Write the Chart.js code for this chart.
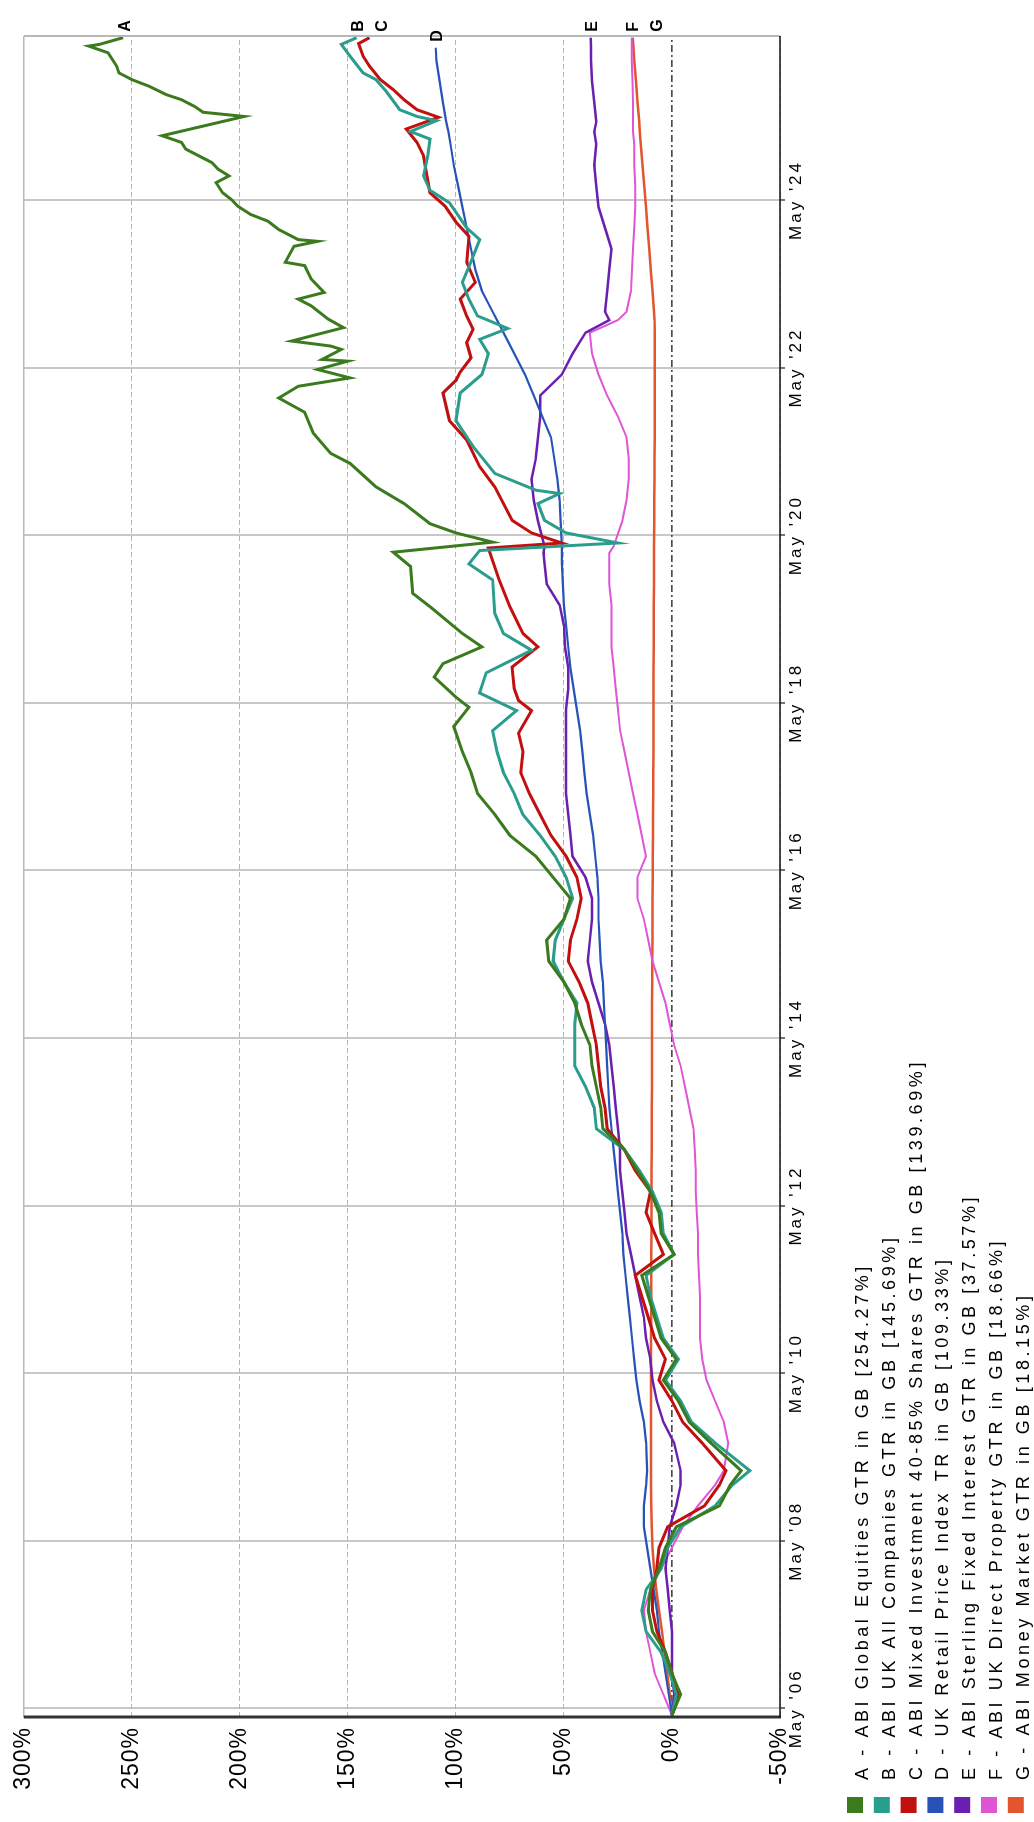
<!DOCTYPE html>
<html>
<head>
<meta charset="utf-8">
<script src="https://cdn.jsdelivr.net/npm/chart.js@4.4.1/dist/chart.umd.min.js"></script>
<style>
  html, body { margin: 0; padding: 0; background: #fff; overflow: hidden; }
  /* el grafico original esta girado 90 grados */
  #envoltura {
    position: absolute; left: 0; top: 0;
    width: 1822px; height: 1034px;
    transform-origin: 0 0;
    transform: translate(0, 1822px) rotate(-90deg);
  }
  canvas { display: block; }
</style>
</head>
<body>
<div id="envoltura"><canvas id="grafica" width="1822" height="1034"></canvas></div>
<script>
// fechas en años decimales (mayo = año + 4/12)
const fechasA = [
  2006.25, 2006.5, 2006.75, 2007.0, 2007.25, 2007.5, 2007.75, 2008.0, 2008.25, 2008.5,
  2008.75, 2009.0, 2009.17, 2009.5, 2009.75, 2010.0, 2010.25, 2010.5, 2010.75, 2011.0,
  2011.25, 2011.5, 2011.75, 2012.0, 2012.25, 2012.5, 2012.75, 2013.0, 2013.25, 2013.5,
  2013.75, 2014.0, 2014.25, 2014.5, 2014.75, 2015.0, 2015.25, 2015.5, 2015.75, 2016.0,
  2016.25, 2016.5, 2016.75, 2017.0, 2017.25, 2017.5, 2017.75, 2018.05, 2018.28, 2018.4,
  2018.64, 2018.8, 2019.0, 2019.16, 2019.48, 2019.64, 2019.96, 2020.13, 2020.25, 2020.36,
  2020.47, 2020.71, 2020.91, 2021.19, 2021.31, 2021.55, 2021.8, 2021.97, 2022.11, 2022.21,
  2022.31, 2022.41, 2022.43, 2022.55, 2022.59, 2022.65, 2022.81, 2022.91, 2023.07, 2023.15,
  2023.23, 2023.39, 2023.55, 2023.59, 2023.78, 2023.84, 2023.86, 2023.98, 2024.08, 2024.16,
  2024.26, 2024.34, 2024.42, 2024.54, 2024.62, 2024.7, 2024.78, 2024.86, 2024.94, 2025.02,
  2025.1, 2025.33, 2025.38, 2025.45, 2025.53, 2025.59, 2025.69, 2025.77, 2025.85, 2025.93,
  2026.09, 2026.17, 2026.19, 2026.27
];
const globalEquities = [
  0, -4, 0, 3, 9, 11, 10, 6, 3, -2,
  -22, -27, -32, -18, -8, -3, 4, -2, 5, 8,
  11, 14, -1, 5, 6, 10, 16, 22, 32, 33,
  35, 37, 38, 42, 45, 50, 57, 58, 50, 47,
  55, 63, 75, 82, 90, 93, 97, 101, 94, 100,
  110, 106, 88, 97, 112, 120, 121, 129, 83, 100,
  112, 124, 137, 149, 158, 166, 170, 182, 173, 149,
  164, 150, 162, 153, 158, 176, 152, 159, 167, 173,
  161, 167, 170, 179, 175, 164, 173, 182, 187, 195,
  201, 204, 208, 211, 205, 210, 213, 219, 225, 227,
  236, 198, 217, 221, 227, 234, 242, 250, 256, 257,
  261, 270, 265, 254
];

const fechasB = [
  2006.25, 2006.5, 2006.75, 2007.0, 2007.25, 2007.5, 2007.75, 2008.0, 2008.25, 2008.5,
  2008.75, 2009.0, 2009.17, 2009.5, 2009.75, 2010.0, 2010.25, 2010.5, 2010.75, 2011.0,
  2011.25, 2011.5, 2011.75, 2012.0, 2012.25, 2012.5, 2012.75, 2013.0, 2013.25, 2013.5,
  2013.75, 2014.0, 2014.25, 2014.5, 2014.75, 2015.0, 2015.25, 2015.5, 2015.75, 2016.0,
  2016.25, 2016.5, 2016.75, 2017.0, 2017.25, 2017.5, 2017.75, 2018.0, 2018.24, 2018.45,
  2018.69, 2018.96, 2019.16, 2019.4, 2019.8, 2019.99, 2020.15, 2020.24, 2020.36, 2020.51,
  2020.71, 2020.83, 2020.87, 2021.07, 2021.39, 2021.7, 2022.03, 2022.25, 2022.5, 2022.67,
  2022.8, 2022.95, 2023.15, 2023.35, 2023.6, 2023.86, 2024.0, 2024.3, 2024.45, 2024.62,
  2024.86, 2025.06, 2025.15, 2025.28, 2025.33, 2025.41, 2025.62, 2025.77, 2025.85, 2026.05,
  2026.19, 2026.27
];
const ukAllCompanies = [
  0, -2, 1, 5, 12, 14, 12, 5, 2, -4,
  -20, -28, -36, -20, -9, -4, 3, -3, 4, 7,
  10, 12, -1, 4, 5, 9, 15, 22, 35, 36,
  40, 45, 45, 45, 44, 50, 55, 54, 50, 46,
  49, 54, 61, 69, 73, 78, 81, 83, 72, 89,
  86, 65, 78, 82, 83, 94, 89, 25, 49, 59,
  62, 52, 63, 82, 92, 100, 98, 88, 85, 89,
  76, 90, 94, 97, 93, 89, 95, 103, 112, 115,
  113, 112, 121, 109, 118, 126, 132, 137, 143, 149,
  153, 146
];

const fechasC = [
  2006.25, 2006.5, 2006.75, 2007.0, 2007.25, 2007.5, 2007.75, 2008.0, 2008.25, 2008.5,
  2008.75, 2009.0, 2009.17, 2009.5, 2009.75, 2010.0, 2010.25, 2010.5, 2010.75, 2011.0,
  2011.25, 2011.5, 2011.75, 2012.0, 2012.25, 2012.5, 2012.75, 2013.0, 2013.25, 2013.5,
  2013.75, 2014.0, 2014.25, 2014.5, 2014.75, 2015.0, 2015.25, 2015.5, 2015.75, 2016.0,
  2016.25, 2016.5, 2016.75, 2017.0, 2017.25, 2017.5, 2017.75, 2017.97, 2018.24, 2018.36,
  2018.5, 2018.76, 2019.0, 2019.16, 2019.48, 2019.8, 2020.18, 2020.24, 2020.36, 2020.51,
  2020.91, 2021.15, 2021.47, 2021.7, 2022.03, 2022.18, 2022.28, 2022.45, 2022.63, 2022.79,
  2022.95, 2023.15, 2023.35, 2023.59, 2023.9, 2024.07, 2024.26, 2024.42, 2024.7, 2024.86,
  2025.02, 2025.18, 2025.32, 2025.41, 2025.53, 2025.65, 2025.77, 2025.93, 2026.05, 2026.2,
  2026.27
];
const mixedInvestment = [
  0, -3, 0, 3, 7, 9, 9, 7, 6, 2,
  -15, -22, -25, -14, -5, 0, 6, 3, 8, 11,
  14, 17, 4, 8, 12, 10, 17, 22, 30, 31,
  33, 34, 35, 37, 39, 43, 48, 47, 44, 42,
  44, 49, 56, 61, 66, 70, 69, 71, 65, 71,
  73, 74, 62, 69, 75, 80, 85, 51, 65, 74,
  82, 89, 95, 103, 106, 100, 98, 93, 95, 92,
  95, 98, 91, 95, 94, 100, 105, 112, 114, 115,
  118, 123, 108, 118, 124, 129, 135, 140, 143, 145,
  140
];

// fechas trimestrales para las series mas suaves
const fechas = [
  2006.25, 2006.5, 2006.75, 2007.0, 2007.25, 2007.5, 2007.75, 2008.0, 2008.25, 2008.5,
  2008.75, 2009.0, 2009.17, 2009.5, 2009.75, 2010.0, 2010.25, 2010.5, 2010.75, 2011.0,
  2011.25, 2011.5, 2011.75, 2012.0, 2012.25, 2012.5, 2012.75, 2013.0, 2013.25, 2013.5,
  2013.75, 2014.0, 2014.25, 2014.5, 2014.75, 2015.0, 2015.25, 2015.5, 2015.75, 2016.0,
  2016.25, 2016.5, 2016.75, 2017.0, 2017.25, 2017.5, 2017.75, 2018.0, 2018.25, 2018.5,
  2018.75, 2019.0, 2019.25, 2019.5, 2019.75, 2020.0, 2020.12, 2020.2, 2020.5, 2020.75,
  2021.0, 2021.25, 2021.5, 2021.75, 2022.0, 2022.25, 2022.5, 2022.75, 2022.9, 2023.0,
  2023.25, 2023.5, 2023.75, 2024.0, 2024.25, 2024.5, 2024.75, 2025.0, 2025.15, 2025.27,
  2025.5, 2025.75, 2026.0, 2026.15, 2026.27
];
const retailPriceIndex = [
  0, 1.5, 3, 4.5, 6, 7, 8.5, 10, 11.5, 13,
  13, 12, 11.5, 12, 13, 15, 16.5, 17.5, 18.5, 19.5,
  20.5, 21.5, 22.5, 23, 24, 25, 26, 27, 28, 29,
  29.5, 30, 30.5, 31, 31.5, 32, 33, 33.5, 34, 34,
  34.5, 35.5, 36.5, 38, 39.5, 40.5, 41.5, 42.5, 44, 45.5,
  47, 48, 49, 50, 50.5, 51, 51, 51, 51.5, 52,
  53, 54.5, 56, 60, 64, 68, 73, 78, 81, 83,
  88, 91, 93, 95, 97, 99, 101, 102.5, 103.5, 104.5,
  106, 107.5, 109, 109.33, null
];
const sterlingFixedInterest = [
  0, -1, 0, 0, 0, 1, 2, 3, 2, 1,
  -2, -4, -4, -1, 4, 7, 9, 10, 12, 13,
  15, 17, 19, 21, 22, 23, 24, 24, 25, 26,
  27, 28, 29, 31, 34, 37, 39, 38, 37, 37,
  40, 46, 47, 48, 49, 49, 49, 49, 49, 48,
  48, 49.5, 50, 52, 58, 59, 59.5, 59, 62, 64,
  65, 63, 62, 61, 61, 51, 46, 40, 29, 31,
  30, 29, 28, 31, 34, 35, 36, 35, 36, 35,
  36, 37, 37.5, 37.5, 37.57
];
const directProperty = [
  0, 4, 8, 10, 12, 13, 10, 5, 0, -5,
  -12, -20, -24, -26, -24, -20, -16, -14, -13, -13,
  -13, -12.5, -12, -12, -11.5, -11, -11, -10.5, -10, -8,
  -6, -4, -1, 1, 3, 6, 9, 11, 13, 16,
  16, 12, 14, 16, 18, 20, 22, 24, 25, 26,
  27, 28, 28, 28, 29, 29, 29, 27, 23, 21,
  20, 20, 21, 25, 30, 34, 37, 38, 25, 21,
  19, 18.5, 18, 17.5, 17, 17, 17.5, 17.5, 18, 18,
  18, 18.3, 18.6, 18.6, 18.66
];
const moneyMarket = [
  0, 1, 2.2, 3.4, 4.6, 6, 7.3, 8.3, 9, 9.4,
  9.6, 9.7, 9.7, 9.7, 9.7, 9.7, 9.7, 9.7, 9.7, 9.6,
  9.6, 9.6, 9.6, 9.5, 9.5, 9.5, 9.5, 9.4, 9.4, 9.4,
  9.3, 9.3, 9.3, 9.2, 9.2, 9.1, 9.1, 9.0, 9.0, 9.0,
  8.9, 8.9, 8.8, 8.8, 8.7, 8.7, 8.6, 8.6, 8.5, 8.5,
  8.5, 8.4, 8.4, 8.4, 8.3, 8.3, 8.3, 8.3, 8.2, 8.2,
  8.1, 8.1, 8.0, 8.0, 8.0, 8.0, 8.0, 8.0, 8.1, 8.3,
  9.0, 9.8, 10.5, 11.3, 12.0, 12.8, 13.6, 14.4, 14.9, 15.2,
  15.9, 16.7, 17.5, 17.8, 18.15
];

const letras = ["A", "B", "C", "D", "E", "F", "G"];
const nombres = [
  "A - ABI Global Equities GTR in GB [254.27%]",
  "B - ABI UK All Companies GTR in GB [145.69%]",
  "C - ABI Mixed Investment 40-85% Shares GTR in GB [139.69%]",
  "D - UK Retail Price Index TR in GB [109.33%]",
  "E - ABI Sterling Fixed Interest GTR in GB [37.57%]",
  "F - ABI UK Direct Property GTR in GB [18.66%]",
  "G - ABI Money Market GTR in GB [18.15%]"
];
const colores = ["#3b7b1e", "#2a9d8c", "#c20f0f", "#2753b8", "#6a1fae", "#e055d6", "#e2552e"];
const grosores = [3, 3, 3, 2.2, 2.5, 2, 2.5];

const aniosTick = [2006, 2008, 2010, 2012, 2014, 2016, 2018, 2020, 2022, 2024];
const etiquetasTick = ["May '06", "May '08", "May '10", "May '12", "May '14", "May '16", "May '18", "May '20", "May '22", "May '24"];

const series = [
  { x: fechasA, y: globalEquities },
  { x: fechasB, y: ukAllCompanies },
  { x: fechasC, y: mixedInvestment },
  { x: fechas, y: retailPriceIndex },
  { x: fechas, y: sterlingFixedInterest },
  { x: fechas, y: directProperty },
  { x: fechas, y: moneyMarket }
];

const FUENTE = "'Liberation Sans', Arial, sans-serif";

const marco = {
  id: "marco",
  beforeDraw(chart) {
    chart.ctx.letterSpacing = "1px";
  },
  beforeDatasetsDraw(chart) {
    const { ctx, chartArea: a, scales } = chart;
    const y0 = scales.y.getPixelForValue(0);
    ctx.save();
    ctx.strokeStyle = "#111";
    ctx.lineWidth = 1.3;
    ctx.setLineDash([7, 3, 2, 3]);
    ctx.beginPath();
    ctx.moveTo(a.left, y0);
    ctx.lineTo(a.right, y0);
    ctx.stroke();
    ctx.restore();
  },
  afterDatasetsDraw(chart) {
    const { ctx, chartArea: a } = chart;
    ctx.save();
    ctx.strokeStyle = "#b8b8b8";
    ctx.lineWidth = 1.5;
    ctx.beginPath();
    ctx.moveTo(a.left, a.top); ctx.lineTo(a.right, a.top);
    ctx.stroke();
    ctx.lineWidth = 2;
    ctx.beginPath();
    ctx.moveTo(a.right, a.top); ctx.lineTo(a.right, a.bottom);
    ctx.stroke();
    ctx.strokeStyle = "#333";
    ctx.lineWidth = 3;
    ctx.beginPath();
    ctx.moveTo(a.left, a.top); ctx.lineTo(a.left, a.bottom + 1);
    ctx.stroke();
    ctx.strokeStyle = "#111";
    ctx.lineWidth = 1.6;
    ctx.beginPath();
    ctx.moveTo(a.left, a.bottom); ctx.lineTo(a.right, a.bottom);
    ctx.stroke();
    ctx.restore();
  },
  afterDraw(chart) {
    const { ctx, chartArea: a, scales } = chart;
    ctx.save();
    ctx.fillStyle = "#000";

    // etiquetas de fecha
    ctx.font = "17px " + FUENTE;
    ctx.letterSpacing = "3px";
    ctx.textAlign = "center";
    ctx.textBaseline = "top";
    scales.x.ticks.forEach((t, i) => {
      ctx.fillText(etiquetasTick[i], scales.x.getPixelForValue(t.value), a.bottom + 8);
    });

    // letras al final de cada linea
    const finales = series.map((s, i) => {
      let k = s.y.length - 1;
      while (s.y[k] === null) k--;
      return { i, x: scales.x.getPixelForValue(s.x[k]) + 6, y: scales.y.getPixelForValue(s.y[k]) + 2 };
    }).sort((p, q) => p.y - q.y);
    for (let k = 1; k < finales.length; k++) {
      if (finales[k].y < finales[k - 1].y + 24) finales[k].y = finales[k - 1].y + 24;
    }
    ctx.font = "bold 16px " + FUENTE;
    ctx.letterSpacing = "2px";
    ctx.textAlign = "left";
    ctx.textBaseline = "middle";
    finales.forEach(p => ctx.fillText(letras[p.i], p.x, p.y));

    // leyenda
    ctx.font = "18px " + FUENTE;
    ctx.letterSpacing = "3.6px";
    ctx.textBaseline = "alphabetic";
    nombres.forEach((n, i) => {
      const yc = 855 + i * 26.8;
      ctx.fillStyle = colores[i];
      ctx.fillRect(9, yc - 8, 16, 16);
      ctx.fillStyle = "#000";
      ctx.fillText(n, 42, yc + 13);
    });
    ctx.restore();
  }
};

const ctx = document.getElementById("grafica").getContext("2d");
new Chart(ctx, {
  type: "line",
  data: {
    datasets: series.map((s, i) => ({
      label: nombres[i],
      data: s.y.map((v, k) => ({ x: s.x[k], y: v })),
      borderColor: colores[i],
      backgroundColor: colores[i],
      borderWidth: grosores[i],
      pointRadius: 0,
      tension: 0,
      fill: false,
      spanGaps: false
    }))
  },
  options: {
    responsive: false,
    animation: false,
    parsing: false,
    layout: { padding: { top: 18, right: 36, left: 0, bottom: 0 } },
    font: { family: FUENTE },
    plugins: { legend: { display: false }, tooltip: { enabled: false } },
    scales: {
      x: {
        type: "linear",
        min: 2006.23,
        max: 2026.29,
        afterBuildTicks: s => { s.ticks = aniosTick.map(a => ({ value: a + 4 / 12 })); },
        afterFit: s => { s.height = 254; },
        ticks: { display: false },
        grid: { color: "#c8c8c8", lineWidth: 2, tickLength: 5, tickColor: "#444", tickWidth: 1.5 },
        border: { display: false }
      },
      y: {
        min: -50,
        max: 300,
        afterFit: s => { s.width = 105; },
        ticks: {
          stepSize: 50,
          padding: 10,
          color: "#000",
          font: { size: 23, family: FUENTE },
          callback: v => v + "%"
        },
        grid: {
          color: c => (c.tick && c.tick.value === 0) ? "rgba(0,0,0,0)" : "#b4b4b4",
          lineWidth: 1,
          drawTicks: false
        },
        border: { display: false, dash: [5, 3] }
      }
    }
  },
  plugins: [marco]
});
</script>
</body>
</html>
